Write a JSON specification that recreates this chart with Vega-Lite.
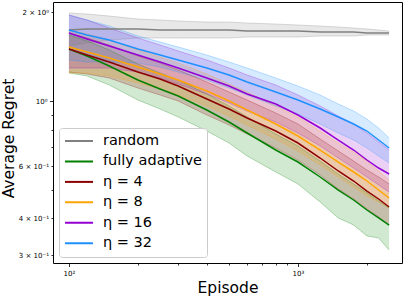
{
  "$schema": "https://vega.github.io/schema/vega-lite/v6.json",
  "width": 349,
  "height": 261,
  "autosize": {"type": "none"},
  "padding": {"left": 53, "top": 2, "right": 5, "bottom": 34},
  "background": "white",
  "config": {
    "view": {"stroke": "#000000", "strokeWidth": 1},
    "font": "DejaVu Sans",
    "axis": {
      "grid": false,
      "domain": false,
      "tickColor": "#000000",
      "labelColor": "#000000",
      "titleColor": "#000000",
      "labelFont": "DejaVu Sans",
      "titleFont": "DejaVu Sans",
      "labelFontSize": 7,
      "titleFontWeight": "normal",
      "labelPadding": 2.5,
      "tickWidth": 0.8
    }
  },
  "data": {
    "values": [
      {"s":"random","ep":100,"m":1.7405,"hi":1.9875,"lo":1.5362},
      {"s":"random","ep":120,"m":1.7542,"hi":1.9720,"lo":1.5726},
      {"s":"random","ep":150,"m":1.7542,"hi":1.9415,"lo":1.6098},
      {"s":"random","ep":200,"m":1.7542,"hi":1.8966,"lo":1.6352},
      {"s":"random","ep":250,"m":1.7405,"hi":1.8818,"lo":1.6352},
      {"s":"random","ep":300,"m":1.7405,"hi":1.8672,"lo":1.6352},
      {"s":"random","ep":400,"m":1.7405,"hi":1.8527,"lo":1.6352},
      {"s":"random","ep":500,"m":1.7405,"hi":1.8527,"lo":1.6352},
      {"s":"random","ep":600,"m":1.7270,"hi":1.8383,"lo":1.6480},
      {"s":"random","ep":800,"m":1.7270,"hi":1.8240,"lo":1.6480},
      {"s":"random","ep":1000,"m":1.7270,"hi":1.8098,"lo":1.6480},
      {"s":"random","ep":1250,"m":1.7135,"hi":1.7957,"lo":1.6609},
      {"s":"random","ep":1500,"m":1.7135,"hi":1.7818,"lo":1.6609},
      {"s":"random","ep":1750,"m":1.7135,"hi":1.7679,"lo":1.6609},
      {"s":"random","ep":2000,"m":1.7002,"hi":1.7542,"lo":1.6739},
      {"s":"random","ep":2250,"m":1.7002,"hi":1.7405,"lo":1.6739},
      {"s":"random","ep":2500,"m":1.7002,"hi":1.7270,"lo":1.6739},

      {"s":"fully adaptive","ep":100,"m":1.5006,"hi":1.6739,"lo":1.2443},
      {"s":"fully adaptive","ep":120,"m":1.4208,"hi":1.5973,"lo":1.2155},
      {"s":"fully adaptive","ep":150,"m":1.3142,"hi":1.4890,"lo":1.1331},
      {"s":"fully adaptive","ep":200,"m":1.1782,"hi":1.3349,"lo":1.0078},
      {"s":"fully adaptive","ep":250,"m":1.0982,"hi":1.2443,"lo":0.9395},
      {"s":"fully adaptive","ep":300,"m":1.0398,"hi":1.1782,"lo":0.8826},
      {"s":"fully adaptive","ep":400,"m":0.9322,"hi":1.0562,"lo":0.7912},
      {"s":"fully adaptive","ep":500,"m":0.8488,"hi":0.9617,"lo":0.7205},
      {"s":"fully adaptive","ep":600,"m":0.7790,"hi":0.8826,"lo":0.6510},
      {"s":"fully adaptive","ep":800,"m":0.6822,"hi":0.7729,"lo":0.5746},
      {"s":"fully adaptive","ep":1000,"m":0.6212,"hi":0.7038,"lo":0.5232},
      {"s":"fully adaptive","ep":1250,"m":0.5526,"hi":0.6260,"lo":0.4546},
      {"s":"fully adaptive","ep":1500,"m":0.4992,"hi":0.5657,"lo":0.4013},
      {"s":"fully adaptive","ep":1750,"m":0.4618,"hi":0.5232,"lo":0.3799},
      {"s":"fully adaptive","ep":2000,"m":0.4271,"hi":0.4877,"lo":0.3487},
      {"s":"fully adaptive","ep":2250,"m":0.4013,"hi":0.4582,"lo":0.3432},
      {"s":"fully adaptive","ep":2500,"m":0.3799,"hi":0.4338,"lo":0.3125},

      {"s":"η = 4","ep":100,"m":1.5006,"hi":1.7002,"lo":1.2540},
      {"s":"η = 4","ep":120,"m":1.4319,"hi":1.6352,"lo":1.2346},
      {"s":"η = 4","ep":150,"m":1.3559,"hi":1.5482,"lo":1.1967},
      {"s":"η = 4","ep":200,"m":1.2540,"hi":1.4208,"lo":1.1068},
      {"s":"η = 4","ep":250,"m":1.1874,"hi":1.3453,"lo":1.0480},
      {"s":"η = 4","ep":300,"m":1.1242,"hi":1.2738,"lo":1.0000},
      {"s":"η = 4","ep":400,"m":1.0157,"hi":1.1599,"lo":0.8965},
      {"s":"η = 4","ep":500,"m":0.9395,"hi":1.0728,"lo":0.8292},
      {"s":"η = 4","ep":600,"m":0.8758,"hi":1.0078,"lo":0.7729},
      {"s":"η = 4","ep":800,"m":0.7912,"hi":0.9106,"lo":0.6929},
      {"s":"η = 4","ep":1000,"m":0.7205,"hi":0.8357,"lo":0.6310},
      {"s":"η = 4","ep":1250,"m":0.6409,"hi":0.7434,"lo":0.5613},
      {"s":"η = 4","ep":1500,"m":0.5791,"hi":0.6769,"lo":0.5031},
      {"s":"η = 4","ep":1750,"m":0.5356,"hi":0.6260,"lo":0.4654},
      {"s":"η = 4","ep":2000,"m":0.4953,"hi":0.5836,"lo":0.4305},
      {"s":"η = 4","ep":2250,"m":0.4654,"hi":0.5526,"lo":0.4044},
      {"s":"η = 4","ep":2500,"m":0.4372,"hi":0.5232,"lo":0.3799},

      {"s":"η = 8","ep":100,"m":1.5243,"hi":1.7405,"lo":1.2443},
      {"s":"η = 8","ep":120,"m":1.4659,"hi":1.6870,"lo":1.2443},
      {"s":"η = 8","ep":150,"m":1.3988,"hi":1.6098,"lo":1.2155},
      {"s":"η = 8","ep":200,"m":1.3040,"hi":1.4890,"lo":1.1509},
      {"s":"η = 8","ep":250,"m":1.2346,"hi":1.4097,"lo":1.0982},
      {"s":"η = 8","ep":300,"m":1.1782,"hi":1.3453,"lo":1.0480},
      {"s":"η = 8","ep":400,"m":1.0812,"hi":1.2346,"lo":0.9617},
      {"s":"η = 8","ep":500,"m":1.0000,"hi":1.1420,"lo":0.8895},
      {"s":"η = 8","ep":600,"m":0.9322,"hi":1.0728,"lo":0.8292},
      {"s":"η = 8","ep":800,"m":0.8357,"hi":0.9617,"lo":0.7434},
      {"s":"η = 8","ep":1000,"m":0.7609,"hi":0.8826,"lo":0.6769},
      {"s":"η = 8","ep":1250,"m":0.6822,"hi":0.7912,"lo":0.6068},
      {"s":"η = 8","ep":1500,"m":0.6212,"hi":0.7205,"lo":0.5526},
      {"s":"η = 8","ep":1750,"m":0.5746,"hi":0.6716,"lo":0.5111},
      {"s":"η = 8","ep":2000,"m":0.5356,"hi":0.6260,"lo":0.4764},
      {"s":"η = 8","ep":2250,"m":0.4992,"hi":0.5791,"lo":0.4546},
      {"s":"η = 8","ep":2500,"m":0.4690,"hi":0.5398,"lo":0.4338},

      {"s":"η = 16","ep":100,"m":1.7002,"hi":1.9567,"lo":1.2939},
      {"s":"η = 16","ep":120,"m":1.6224,"hi":1.8818,"lo":1.2939},
      {"s":"η = 16","ep":150,"m":1.5362,"hi":1.7679,"lo":1.2939},
      {"s":"η = 16","ep":200,"m":1.4319,"hi":1.6352,"lo":1.2540},
      {"s":"η = 16","ep":250,"m":1.3559,"hi":1.5482,"lo":1.1967},
      {"s":"η = 16","ep":300,"m":1.2939,"hi":1.4774,"lo":1.1420},
      {"s":"η = 16","ep":400,"m":1.1967,"hi":1.3772,"lo":1.0562},
      {"s":"η = 16","ep":500,"m":1.1242,"hi":1.2939,"lo":0.9845},
      {"s":"η = 16","ep":600,"m":1.0562,"hi":1.2251,"lo":0.9249},
      {"s":"η = 16","ep":800,"m":0.9769,"hi":1.1331,"lo":0.8488},
      {"s":"η = 16","ep":1000,"m":0.8965,"hi":1.0480,"lo":0.7790},
      {"s":"η = 16","ep":1250,"m":0.8100,"hi":0.9617,"lo":0.7038},
      {"s":"η = 16","ep":1500,"m":0.7376,"hi":0.8895,"lo":0.6409},
      {"s":"η = 16","ep":1750,"m":0.6822,"hi":0.8357,"lo":0.5928},
      {"s":"η = 16","ep":2000,"m":0.6310,"hi":0.7790,"lo":0.5526},
      {"s":"η = 16","ep":2250,"m":0.5928,"hi":0.7261,"lo":0.5191},
      {"s":"η = 16","ep":2500,"m":0.5657,"hi":0.6822,"lo":0.4915},

      {"s":"η = 32","ep":100,"m":1.7405,"hi":1.9567,"lo":1.3772},
      {"s":"η = 32","ep":120,"m":1.6739,"hi":1.8818,"lo":1.3559},
      {"s":"η = 32","ep":150,"m":1.6098,"hi":1.7957,"lo":1.3559},
      {"s":"η = 32","ep":200,"m":1.5006,"hi":1.6609,"lo":1.3453},
      {"s":"η = 32","ep":250,"m":1.4319,"hi":1.5849,"lo":1.3040},
      {"s":"η = 32","ep":300,"m":1.3772,"hi":1.5243,"lo":1.2540},
      {"s":"η = 32","ep":400,"m":1.2939,"hi":1.4319,"lo":1.1782},
      {"s":"η = 32","ep":500,"m":1.2251,"hi":1.3559,"lo":1.1068},
      {"s":"η = 32","ep":600,"m":1.1599,"hi":1.2939,"lo":1.0480},
      {"s":"η = 32","ep":800,"m":1.0728,"hi":1.1967,"lo":0.9617},
      {"s":"η = 32","ep":1000,"m":1.0078,"hi":1.1242,"lo":0.9035},
      {"s":"η = 32","ep":1250,"m":0.9395,"hi":1.0480,"lo":0.8357},
      {"s":"η = 32","ep":1500,"m":0.8826,"hi":0.9769,"lo":0.7790},
      {"s":"η = 32","ep":1750,"m":0.8357,"hi":0.9249,"lo":0.7376},
      {"s":"η = 32","ep":2000,"m":0.7912,"hi":0.8690,"lo":0.6929},
      {"s":"η = 32","ep":2250,"m":0.7376,"hi":0.8100,"lo":0.6510},
      {"s":"η = 32","ep":2500,"m":0.6929,"hi":0.7492,"lo":0.6163}
    ]
  },
  "encoding": {
    "x": {
      "field": "ep",
      "type": "quantitative",
      "scale": {"type": "log", "domain": [85.2, 2846], "nice": false},
      "axis": {
        "title": "Episode",
        "titleFontSize": 15.5,
        "titleY": 29,
        "titleBaseline": "alphabetic",
        "values": [100, 200, 300, 400, 500, 600, 700, 800, 900, 1000, 2000],
        "labelExpr": "datum.value == 100 ? '10²' : datum.value == 1000 ? '10³' : ''",
        "tickSize": {"condition": {"test": "datum.value == 100 || datum.value == 1000", "value": 3.5}, "value": 2}
      }
    },
    "color": {
      "field": "s",
      "type": "nominal",
      "scale": {
        "domain": ["random", "fully adaptive", "η = 4", "η = 8", "η = 16", "η = 32"],
        "range": ["#808080", "#008000", "#8b0000", "#ffa500", "#9400d3", "#1e90ff"]
      },
      "legend": {
        "title": null,
        "orient": "none",
        "legendX": 6,
        "legendY": 126,
        "padding": 5,
        "strokeColor": "#cccccc",
        "fillColor": "rgba(255,255,255,0.8)",
        "cornerRadius": 3,
        "symbolType": "stroke",
        "symbolSize": 784,
        "symbolStrokeWidth": 2,
        "symbolOpacity": 1,
        "clipHeight": 16,
        "labelFontSize": 14.5,
        "labelFont": "DejaVu Sans",
        "labelColor": "#000000",
        "labelOffset": 9,
        "rowPadding": 4.45
      }
    }
  },
  "layer": [
    {
      "mark": {"type": "area", "opacity": 0.18},
      "encoding": {
        "y": {
          "field": "lo",
          "type": "quantitative",
          "scale": {"type": "log", "domain": [0.2824, 2.166], "nice": false},
          "axis": {
            "title": "Average Regret",
            "titleFontSize": 15.5,
            "titleX": -40,
            "titleY": 136,
            "titleBaseline": "alphabetic",
            "values": [0.3, 0.4, 0.5, 0.6, 0.7, 0.8, 0.9, 1, 2],
            "labelExpr": "datum.value == 2 ? '2 × 10⁰' : datum.value == 1 ? '10⁰' : datum.value == 0.6 ? '6 × 10⁻¹' : datum.value == 0.4 ? '4 × 10⁻¹' : datum.value == 0.3 ? '3 × 10⁻¹' : ''",
            "tickSize": {"condition": {"test": "datum.value == 1", "value": 3.5}, "value": 2}
          }
        },
        "y2": {"field": "hi"}
      }
    },
    {
      "mark": {"type": "line", "opacity": 0.35, "strokeWidth": 0.8},
      "encoding": {
        "y": {"field": "lo", "type": "quantitative", "scale": {"type": "log", "domain": [0.2824, 2.166], "nice": false}, "axis": {"title": "Average Regret"}}
      }
    },
    {
      "mark": {"type": "line", "opacity": 0.35, "strokeWidth": 0.8},
      "encoding": {
        "y": {"field": "hi", "type": "quantitative", "scale": {"type": "log", "domain": [0.2824, 2.166], "nice": false}, "axis": {"title": "Average Regret"}}
      }
    },
    {
      "mark": {"type": "line", "strokeWidth": 1.5},
      "encoding": {
        "y": {"field": "m", "type": "quantitative", "scale": {"type": "log", "domain": [0.2824, 2.166], "nice": false}, "axis": {"title": "Average Regret"}}
      }
    }
  ]
}
